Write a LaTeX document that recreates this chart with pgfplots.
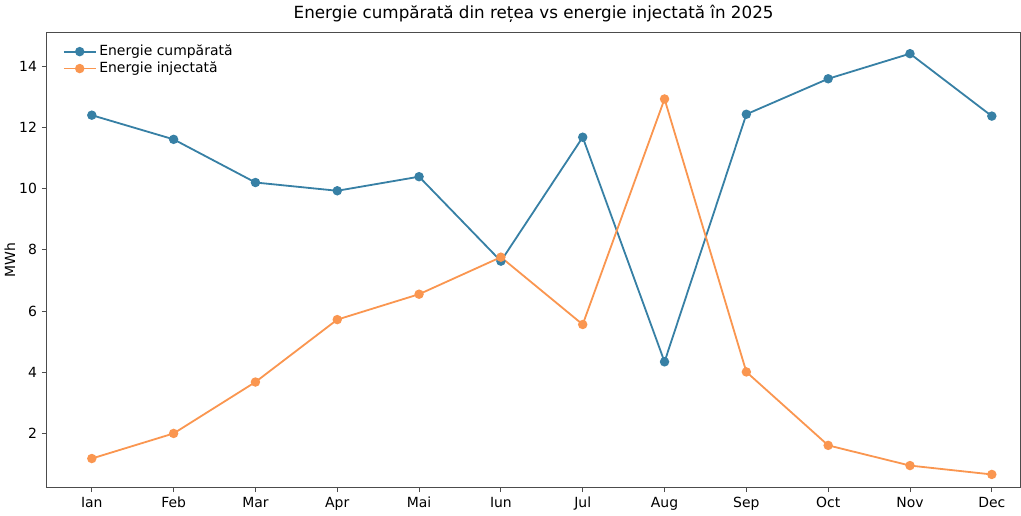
\documentclass[border=0pt]{standalone}
\usepackage{pgfplots}
\pgfplotsset{compat=1.18}
\usepackage{fontspec}
\setmainfont{DejaVu Sans}
\definecolor{cumparata}{RGB}{55,128,165}
\definecolor{injectata}{RGB}{250,150,80}
\begin{document}
\begin{tikzpicture}
\begin{axis}[
    scale only axis,
    width=698pt,
    height=326pt,
    xmin=-0.55, xmax=11.35,
    ymin=0.24, ymax=15.1,
    xtick={0,...,11},
    xticklabels={Ian,Feb,Mar,Apr,Mai,Iun,Jul,Aug,Sep,Oct,Nov,Dec},
    ytick={2,4,6,8,10,12,14},
    tick align=outside,
    major tick length=3.5pt,
    tick style={black!70, line width=0.6pt},
    axis line style={black!70, line width=0.8pt},
    tick pos=left,
    /pgf/number format/assume math mode=true,
    ticklabel style={font=\fontsize{10}{12}\selectfont, text=black},
    ylabel={MWh},
    ylabel style={font=\fontsize{10}{12}\selectfont, yshift=-4pt},
    title={Energie cumpărată din rețea vs energie injectată în 2025},
    title style={font=\fontsize{12}{14}\selectfont, yshift=-2pt},
    legend style={at={(0.012,0.985)}, anchor=north west, draw=none, fill=white,
        font=\fontsize{10}{12}\selectfont, row sep=-1pt},
    legend image code/.code={
        \draw[mark repeat=2, mark phase=2] plot coordinates {(0cm,0cm) (0.4cm,0cm) (0.8cm,0cm)};
    },
    legend cell align=left,
]
\addplot[color=cumparata, line width=1.3pt, mark=*, mark size=2.7pt]
coordinates {(0,12.40)(1,11.61)(2,10.20)(3,9.93)(4,10.39)(5,7.63)(6,11.68)(7,4.34)(8,12.43)(9,13.59)(10,14.41)(11,12.37)};
\addplot[color=injectata, line width=1.3pt, mark=*, mark size=2.7pt]
coordinates {(0,1.18)(1,2.00)(2,3.68)(3,5.72)(4,6.55)(5,7.76)(6,5.56)(7,12.93)(8,4.01)(9,1.61)(10,0.95)(11,0.66)};
\legend{Energie cumpărată, Energie injectată}
\end{axis}
\end{tikzpicture}
\end{document}
